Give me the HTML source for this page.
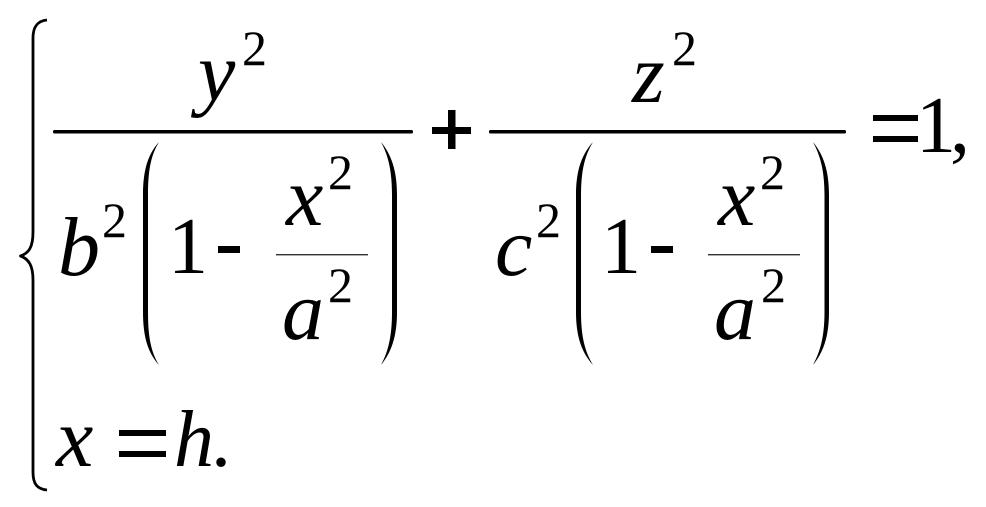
<!DOCTYPE html>
<html><head><meta charset="utf-8"><style>
html,body{margin:0;padding:0;background:#fff}
svg{display:block}
text{font-family:"Liberation Serif",serif;fill:#000}
.i{font-style:italic;font-size:84px}
.n{font-size:80px}
.s{font-size:50px}
.p{fill:#000;stroke:none}
</style></head><body>
<svg width="986" height="507" viewBox="0 0 986 507" xmlns="http://www.w3.org/2000/svg">
<rect width="986" height="507" fill="#fff"/>
<!-- brace -->
<path d="M47 20 C37 21 33 27 33 38 L33 232 C33 247 29 253 20.500 256 C29 259 33 266 33 280 L33 472 C33 484 37 489 47 490" fill="none" stroke="#000" stroke-width="2.8" stroke-linejoin="round"/>
<!-- left fraction -->
<text class="i" x="198" y="100">y</text>
<text class="s" x="242" y="65">2</text>
<rect x="53" y="130" width="360" height="3.5" rx="1.5"/>
<text class="i" x="58" y="275">b</text>
<text class="s" x="102" y="237">2</text>
<path d="M159 142 C148 154 143 170 143 195 L143 312 C143 337 148 353 159 365 C151 352 148 337 148 312 L148 195 C148 170 151 155 159 142Z" class="p"/>
<path d="M381 142 C391 154 397 170 397 195 L397 312 C397 337 391 353 381 365 C388 352 392 337 392 312 L392 195 C392 170 388 155 381 142Z" class="p"/>
<text class="n" x="168" y="273">1</text>
<rect x="218" y="246" width="22" height="7"/>
<text class="i" x="286" y="225">x</text>
<text class="s" x="328" y="189">2</text>
<rect x="276" y="254" width="92" height="1.4" fill="#333"/>
<text class="i" x="282" y="339">a</text>
<text class="s" x="328" y="302">2</text>
<!-- plus -->
<rect x="432" y="127" width="39" height="7"/>
<rect x="448" y="110" width="7.5" height="39"/>
<!-- right fraction -->
<text class="i" x="632" y="102">z</text>
<text class="s" x="672" y="65">2</text>
<rect x="489" y="130" width="357" height="3.5" rx="1.5"/>
<text class="i" x="495" y="275">c</text>
<text class="s" x="536" y="237">2</text>
<path d="M576 312 L576 195 C576 170 582 154 593 142 C585 155 581 170 581 195 L581 312 C581 337 585 352 593 365 C582 353 576 337 576 312Z" class="p"/>
<path d="M813 142 C823 154 829 170 829 195 L829 312 C829 337 823 353 813 365 C820 352 824.500 337 824.500 312 L824.500 195 C824.500 170 820 155 813 142Z" class="p"/>
<text class="n" x="601" y="273">1</text>
<rect x="651" y="246" width="22" height="7"/>
<text class="i" x="718" y="225">x</text>
<text class="s" x="760" y="189">2</text>
<rect x="708" y="254" width="92" height="1.4" fill="#333"/>
<text class="i" x="714" y="339">a</text>
<text class="s" x="761" y="302">2</text>
<!-- =1, -->
<rect x="873" y="115" width="45" height="6"/>
<rect x="873" y="136" width="45" height="6"/>
<text class="n" x="916" y="152">1</text>
<text class="n" x="950" y="152">,</text>
<!-- x = h. -->
<text class="i" x="56" y="466">x</text>
<rect x="119" y="430" width="47" height="6"/>
<rect x="119" y="451" width="47" height="6"/>
<text class="i" x="174" y="466" style="font-size:80px">h</text>
<text class="n" x="211" y="466">.</text>
</svg>
</body></html>
